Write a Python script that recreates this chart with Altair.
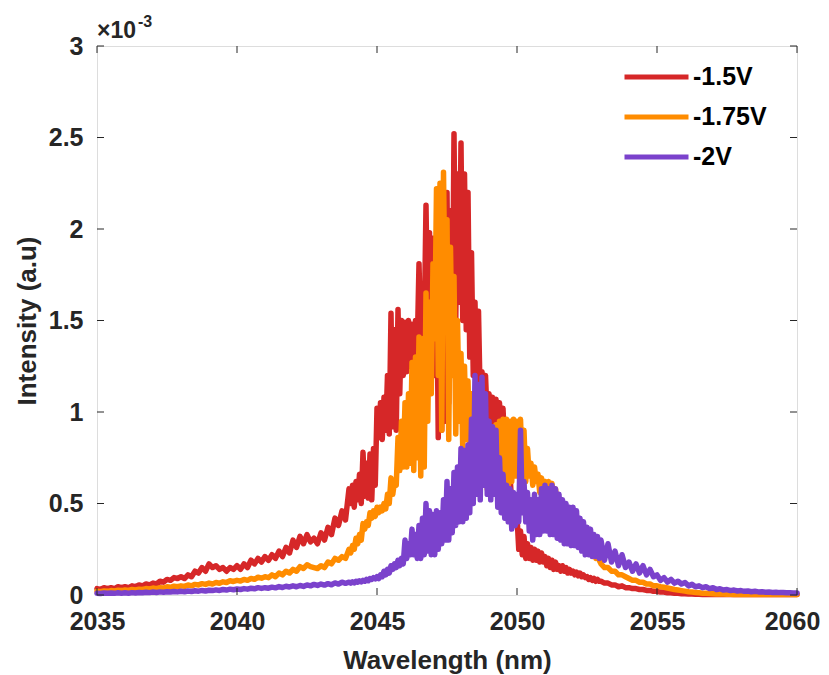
import altair as alt
import pandas as pd

series_names = ["-1.5V", "-1.75V", "-2V"]
series_colors = ["#D62728", "#FF8C00", "#7B42CC"]

# sampling grid (nm): coarse tails, finer sampling over the fringe-rich centre
LEFT_START, LEFT_STEP, LEFT_N = 2035.0, 0.125, 72
MID_START, MID_STEP, MID_N = 2044.0, 0.0625, 144
RIGHT_START, RIGHT_STEP, RIGHT_N = 2053.0, 0.125, 57

# ---------------- -1.5 V ----------------
red_left = [
    0.035, 0.03, 0.04, 0.035, 0.04, 0.035, 0.045, 0.04,
    0.045, 0.04, 0.05, 0.045, 0.055, 0.05, 0.06, 0.055,
    0.065, 0.06, 0.075, 0.07, 0.085, 0.08, 0.095, 0.09,
    0.10, 0.09, 0.11, 0.10, 0.13, 0.12, 0.15, 0.13,
    0.17, 0.15, 0.16, 0.14, 0.15, 0.13, 0.15, 0.14,
    0.16, 0.14, 0.17, 0.15, 0.19, 0.17, 0.20, 0.18,
    0.21, 0.19, 0.22, 0.20, 0.24, 0.21, 0.26, 0.23,
    0.30, 0.26, 0.32, 0.28, 0.33, 0.29, 0.31, 0.28,
    0.34, 0.30, 0.37, 0.33, 0.42, 0.38, 0.46, 0.41,
]
red_mid = [
    0.58, 0.50, 0.60, 0.48, 0.62, 0.52, 0.66, 0.50, 0.78, 0.54, 0.72, 0.53, 0.77, 0.52, 0.80, 0.60,
    1.02, 0.86, 1.05, 0.85, 1.08, 0.90, 1.20, 0.88, 1.54, 0.92, 1.45, 0.90, 1.56, 1.10, 1.50, 1.20,
    1.49, 1.22, 1.50, 1.25, 1.48, 1.30, 1.50, 1.35, 1.81, 1.40, 1.60, 1.45, 2.13, 1.42, 1.98, 1.40,
    1.95, 1.20, 1.90, 0.86, 1.92, 0.90, 1.85, 0.95, 2.20, 1.05, 2.10, 1.30, 2.52, 1.50, 2.30, 1.60,
    2.47, 1.50, 2.30, 1.45, 2.20, 1.30, 1.87, 1.20, 1.60, 1.10, 1.55, 1.05, 1.22, 1.00, 1.20, 0.95,
    1.10, 0.92, 1.08, 0.90, 1.07, 0.85, 1.05, 0.82, 1.02, 0.80, 0.95, 0.75, 0.65, 0.50, 0.45, 0.42,
    0.43, 0.25, 0.35, 0.22, 0.32, 0.20, 0.28, 0.20, 0.26, 0.19, 0.25, 0.19, 0.24, 0.18, 0.23, 0.18,
    0.21, 0.16, 0.20, 0.15, 0.19, 0.14, 0.18, 0.14, 0.16, 0.13, 0.16, 0.13, 0.15, 0.12, 0.14, 0.12,
    0.13, 0.11, 0.125, 0.105, 0.12, 0.10, 0.11, 0.095, 0.10, 0.085, 0.095, 0.08, 0.09, 0.075, 0.085, 0.075,
]
red_right = [
    0.075, 0.065, 0.065, 0.055, 0.055, 0.045, 0.05, 0.04,
    0.04, 0.035, 0.035, 0.03, 0.03, 0.025, 0.025, 0.02,
    0.02, 0.016, 0.016, 0.012, 0.012, 0.009, 0.009, 0.007,
    0.007, 0.005, 0.005, 0.004, 0.004, 0.003, 0.003, 0.003,
    0.003, 0.003, 0.003, 0.003, 0.003, 0.003, 0.003, 0.003,
    0.003, 0.003, 0.003, 0.003, 0.003, 0.003, 0.003, 0.003,
    0.003, 0.003, 0.003, 0.003, 0.003, 0.003, 0.003, 0.003,
    0.003,
]

# ---------------- -1.75 V ----------------
orange_left = [
    0.02, 0.018, 0.022, 0.02, 0.024, 0.022, 0.026, 0.024,
    0.028, 0.025, 0.03, 0.028, 0.032, 0.03, 0.035, 0.033,
    0.038, 0.035, 0.04, 0.038, 0.045, 0.042, 0.048, 0.045,
    0.05, 0.047, 0.055, 0.05, 0.058, 0.055, 0.062, 0.058,
    0.065, 0.06, 0.068, 0.064, 0.072, 0.068, 0.078, 0.074,
    0.08, 0.076, 0.085, 0.08, 0.09, 0.086, 0.097, 0.092,
    0.10, 0.095, 0.11, 0.10, 0.12, 0.11, 0.13, 0.12,
    0.14, 0.13, 0.155, 0.145, 0.165, 0.155, 0.15, 0.145,
    0.16, 0.15, 0.18, 0.17, 0.20, 0.19, 0.21, 0.20,
]
orange_mid = [
    0.25, 0.23, 0.27, 0.25, 0.31, 0.28, 0.33, 0.30, 0.39, 0.36, 0.40, 0.38, 0.45, 0.42, 0.46, 0.43,
    0.48, 0.45, 0.48, 0.46, 0.50, 0.47, 0.55, 0.50, 0.64, 0.55, 0.62, 0.60, 0.86, 0.68, 0.95, 0.70,
    1.05, 0.70, 1.10, 0.72, 1.27, 0.68, 1.30, 0.75, 1.41, 0.65, 1.40, 0.70, 1.65, 0.95, 1.60, 1.10,
    1.81, 1.40, 2.22, 1.20, 2.25, 0.90, 2.31, 1.50, 2.05, 0.85, 1.90, 1.20, 1.74, 0.88, 1.50, 0.95,
    1.32, 0.80, 1.25, 0.85, 1.17, 0.78, 1.10, 0.80, 1.05, 0.75, 0.98, 0.70, 0.85, 0.60, 0.82, 0.58,
    0.80, 0.58, 0.88, 0.60, 0.93, 0.60, 0.95, 0.62, 0.96, 0.57, 0.96, 0.60, 0.95, 0.62, 0.96, 0.65,
    0.95, 0.65, 0.96, 0.70, 0.90, 0.62, 0.80, 0.65, 0.72, 0.60, 0.70, 0.62, 0.66, 0.56, 0.64, 0.58,
    0.62, 0.52, 0.62, 0.55, 0.61, 0.50, 0.58, 0.50, 0.53, 0.45, 0.50, 0.44, 0.45, 0.38, 0.42, 0.37,
    0.38, 0.32, 0.36, 0.30, 0.33, 0.28, 0.30, 0.26, 0.27, 0.23, 0.26, 0.22, 0.24, 0.20, 0.22, 0.19,
]
orange_right = [
    0.17, 0.15, 0.15, 0.13, 0.13, 0.11, 0.11, 0.10,
    0.09, 0.08, 0.08, 0.07, 0.07, 0.06, 0.06, 0.05,
    0.05, 0.045, 0.042, 0.038, 0.034, 0.03, 0.027, 0.024,
    0.021, 0.018, 0.016, 0.014, 0.012, 0.01, 0.009, 0.008,
    0.007, 0.006, 0.005, 0.005, 0.004, 0.004, 0.003, 0.003,
    0.003, 0.003, 0.003, 0.003, 0.003, 0.003, 0.003, 0.003,
    0.003, 0.003, 0.003, 0.003, 0.003, 0.003, 0.003, 0.003,
    0.003,
]

# ---------------- -2 V ----------------
purple_left = [
    0.01, 0.008, 0.011, 0.009, 0.011, 0.009, 0.012, 0.01,
    0.012, 0.01, 0.013, 0.011, 0.014, 0.012, 0.015, 0.013,
    0.016, 0.014, 0.017, 0.015, 0.018, 0.016, 0.019, 0.017,
    0.02, 0.018, 0.022, 0.019, 0.023, 0.021, 0.025, 0.022,
    0.026, 0.024, 0.028, 0.025, 0.03, 0.027, 0.032, 0.029,
    0.033, 0.03, 0.035, 0.032, 0.037, 0.034, 0.04, 0.036,
    0.04, 0.037, 0.043, 0.039, 0.046, 0.041, 0.048, 0.044,
    0.05, 0.045, 0.052, 0.047, 0.055, 0.05, 0.058, 0.052,
    0.06, 0.054, 0.062, 0.056, 0.066, 0.06, 0.07, 0.064,
]
purple_mid = [
    0.07, 0.065, 0.072, 0.066, 0.075, 0.07, 0.078, 0.072, 0.08, 0.075, 0.085, 0.078, 0.09, 0.085, 0.095, 0.088,
    0.10, 0.09, 0.11, 0.10, 0.13, 0.11, 0.14, 0.12, 0.16, 0.14, 0.17, 0.15, 0.19, 0.16, 0.20, 0.17,
    0.30, 0.20, 0.28, 0.22, 0.36, 0.22, 0.33, 0.20, 0.38, 0.20, 0.42, 0.22, 0.50, 0.24, 0.46, 0.22,
    0.44, 0.22, 0.46, 0.25, 0.45, 0.28, 0.52, 0.30, 0.62, 0.30, 0.58, 0.34, 0.67, 0.38, 0.70, 0.40,
    0.80, 0.40, 0.79, 0.42, 0.82, 0.45, 0.96, 0.50, 1.20, 0.55, 1.15, 0.52, 1.19, 0.60, 1.10, 0.55,
    0.95, 0.52, 0.92, 0.55, 0.90, 0.48, 0.75, 0.45, 0.66, 0.42, 0.60, 0.40, 0.58, 0.36, 0.56, 0.38,
    0.55, 0.40, 0.90, 0.45, 0.62, 0.40, 0.56, 0.35, 0.52, 0.30, 0.55, 0.33, 0.52, 0.33, 0.58, 0.35,
    0.60, 0.35, 0.58, 0.33, 0.60, 0.33, 0.58, 0.31, 0.55, 0.30, 0.52, 0.28, 0.50, 0.28, 0.48, 0.27,
    0.48, 0.27, 0.46, 0.26, 0.42, 0.24, 0.40, 0.22, 0.37, 0.22, 0.36, 0.21, 0.33, 0.21, 0.32, 0.20,
]
purple_right = [
    0.30, 0.19, 0.28, 0.18, 0.24, 0.16, 0.22, 0.15,
    0.18, 0.13, 0.17, 0.12, 0.16, 0.11, 0.14, 0.10,
    0.11, 0.08, 0.095, 0.07, 0.085, 0.065, 0.075, 0.06,
    0.068, 0.05, 0.058, 0.045, 0.05, 0.04, 0.045, 0.035,
    0.04, 0.03, 0.034, 0.027, 0.03, 0.024, 0.027, 0.022,
    0.024, 0.02, 0.022, 0.018, 0.02, 0.017, 0.018, 0.015,
    0.016, 0.014, 0.015, 0.013, 0.014, 0.012, 0.012, 0.011,
    0.011,
]

x_ticks = [2035, 2040, 2045, 2050, 2055, 2060]
y_ticks = [0, 0.5, 1, 1.5, 2, 2.5, 3]

wl = ([LEFT_START + LEFT_STEP * i for i in range(LEFT_N)]
      + [MID_START + MID_STEP * i for i in range(MID_N)]
      + [RIGHT_START + RIGHT_STEP * i for i in range(RIGHT_N)])

series_vals = [
    red_left + red_mid + red_right,
    orange_left + orange_mid + orange_right,
    purple_left + purple_mid + purple_right,
]
for v in series_vals:
    assert len(v) == len(wl), (len(v), len(wl))

rows = []
for name, vals in zip(series_names, series_vals):
    for x, v in zip(wl, vals):
        rows.append({"wl": x, "val": v, "series": name})
df = pd.DataFrame(rows)

W, H = 700, 549
FONT = "Liberation Sans"
AX = "#262626"

xs = alt.Scale(domain=[2035, 2060], nice=False)
ys = alt.Scale(domain=[0, 3], nice=False, zero=False)
cs = alt.Scale(domain=series_names, range=series_colors)

legend = alt.Legend(
    orient="none", legendX=525, legendY=11, title=None,
    symbolType="stroke", symbolSize=4096, symbolStrokeWidth=5,
    labelFontSize=25, labelFont=FONT, labelFontWeight="bold", labelColor="#000000",
    labelOffset=2, rowPadding=0, clipHeight=40, padding=0,
)

x_axis = alt.Axis(values=x_ticks, format="d", ticks=False, domain=False, grid=False,
                  labelFontSize=25, labelFont=FONT, labelFontWeight="bold", labelColor=AX,
                  labelPadding=14, labelFlush=False,
                  labelOffset={"condition": {"test": "datum.value == 2060", "value": -5}, "value": 0},
                  title="Wavelength (nm)", titleFontSize=26, titleFont=FONT,
                  titleFontWeight="bold", titleColor=AX, titlePadding=13)
y_axis = alt.Axis(values=y_ticks, format="~g", ticks=False, domain=False, grid=False,
                  labelFontSize=25, labelFont=FONT, labelFontWeight="bold", labelColor=AX,
                  labelPadding=14, labelFlush=False,
                  title="Intensity (a.u)", titleFontSize=26, titleFont=FONT,
                  titleFontWeight="bold", titleColor=AX, titlePadding=8)

layers = []
for name in series_names:
    sub = df[df.series == name]
    layers.append(
        alt.Chart(sub).mark_line(strokeWidth=5.5, strokeJoin="round", strokeCap="round").encode(
            x=alt.X("wl:Q", scale=xs, axis=x_axis),
            y=alt.Y("val:Q", scale=ys, axis=y_axis),
            color=alt.Color("series:N", scale=cs, legend=legend),
            order="wl:Q",
        )
    )

xt = pd.DataFrame({"t": x_ticks})
yt = pd.DataFrame({"t": y_ticks})
tick_style = dict(color=AX, strokeWidth=1)
bottom_ticks = alt.Chart(xt).mark_rule(**tick_style).encode(
    x=alt.X("t:Q", scale=xs, axis=x_axis), y=alt.value(H), y2=alt.value(H - 7))
top_ticks = alt.Chart(xt).mark_rule(**tick_style).encode(
    x=alt.X("t:Q", scale=xs, axis=x_axis), y=alt.value(0), y2=alt.value(7))
left_ticks = alt.Chart(yt).mark_rule(**tick_style).encode(
    y=alt.Y("t:Q", scale=ys, axis=y_axis), x=alt.value(0), x2=alt.value(7))
right_ticks = alt.Chart(yt).mark_rule(**tick_style).encode(
    y=alt.Y("t:Q", scale=ys, axis=y_axis), x=alt.value(W), x2=alt.value(W - 7))

exp_base = alt.Chart(pd.DataFrame({"t": ["\u00d710"]})).mark_text(
    align="left", baseline="alphabetic", font=FONT, fontSize=23, fontWeight="bold", color=AX).encode(
    text="t:N", x=alt.value(0), y=alt.value(-8))
exp_pow = alt.Chart(pd.DataFrame({"t": ["-3"]})).mark_text(
    align="left", baseline="alphabetic", font=FONT, fontSize=16, fontWeight="bold", color=AX).encode(
    text="t:N", x=alt.value(41), y=alt.value(-19))

chart = alt.layer(*layers, bottom_ticks, top_ticks, left_ticks, right_ticks, exp_base, exp_pow).properties(
    width=W, height=H,
    padding={"left": 89, "top": 38, "right": 24, "bottom": 79},
    autosize=alt.AutoSizeParams(type="none"),
).configure_view(stroke=AX, strokeWidth=1).configure(background="white")

chart.save("out.html", embed_options={"renderer": "svg", "actions": False})
